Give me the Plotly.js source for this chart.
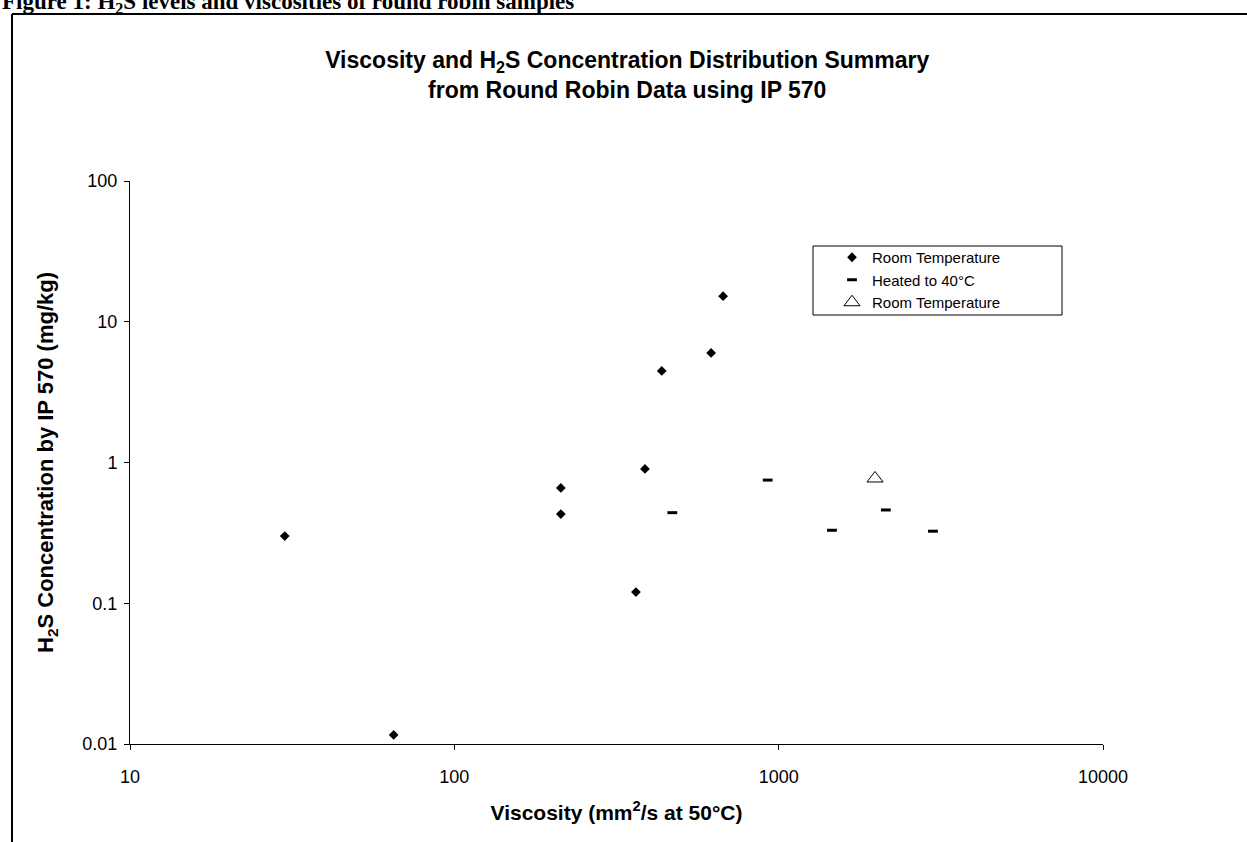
<!DOCTYPE html>
<html>
<head>
<meta charset="utf-8">
<script src="https://cdn.plot.ly/plotly-3.0.1.min.js"></script>
<style>html,body{margin:0;padding:0;background:#fff;}#chart{width:1247px;height:842px;}</style>
</head>
<body>
<div id="chart"></div>
<script>
// Room temperature samples (diamonds)
const roomViscosity = [30, 65, 213, 213, 363, 387, 436, 619, 674];
const roomH2S       = [0.30, 0.0116, 0.66, 0.43, 0.12, 0.90, 4.47, 6.0, 15.2];
// Heated to 40°C samples (dashes)
const heatedViscosity = [470, 925, 1460, 2140, 2990];
const heatedH2S       = [0.44, 0.75, 0.33, 0.46, 0.325];
// Room temperature (open triangle)
const room2Viscosity = [1982];
const room2H2S       = [0.77];

const xTickVals = [10, 100, 1000, 10000];
const xTickText = ['10', '100', '1000', '10000'];
const yTickVals = [0.01, 0.1, 1, 10, 100];
const yTickText = ['0.01', '0.1', '1', '10', '100'];

const FONT = 'Liberation Sans, Arial, sans-serif';

const traces = [
  {
    x: roomViscosity, y: roomH2S, mode: 'markers', type: 'scatter',
    name: 'Room Temperature',
    marker: {symbol: 'diamond', size: 7.5, color: '#000'}
  },
  {
    x: heatedViscosity, y: heatedH2S, mode: 'markers', type: 'scatter',
    name: 'Heated to 40°C',
    marker: {symbol: 'line-ew', size: 7, color: '#000', line: {color: '#000', width: 3}}
  },
  {
    x: room2Viscosity, y: room2H2S, mode: 'markers', type: 'scatter',
    name: 'Room Temperature',
    marker: {symbol: 'triangle-up-open', size: 14, color: '#000', line: {color: '#000', width: 1}}
  }
];

// pixel helpers for paper coordinates of the frame
const L = 130, R = 1103, T = 181, B = 744;
const px = v => (v - L) / (R - L);
const py = v => (B - v) / (B - T);

const layout = {
  width: 1247, height: 842,
  paper_bgcolor: '#fff', plot_bgcolor: '#fff',
  margin: {l: L, r: 1247 - R, t: T, b: 842 - B, pad: 0},
  font: {family: FONT, color: '#000', size: 18},
  showlegend: true,
  title: {
    text: '<b>Viscosity and H<sub>2</sub>S Concentration Distribution Summary<br>from Round Robin Data using IP 570</b>',
    font: {family: FONT, size: 23, color: '#000'},
    x: 0.503, xref: 'container', xanchor: 'center',
    y: 1 - 68 / 842, yref: 'container', yanchor: 'middle'
  },
  xaxis: {
    type: 'log', range: [1, 4],
    tickvals: xTickVals, ticktext: xTickText,
    ticks: 'outside', ticklen: 5, tickwidth: 1, tickcolor: '#000',
    ticklabelstandoff: 11,
    showline: true, linecolor: '#000', linewidth: 1, mirror: false,
    showgrid: false, zeroline: false,
    tickfont: {family: FONT, size: 18, color: '#000'},
    title: {text: '<b>Viscosity (mm<sup>2</sup>/s at 50°C)</b>', font: {family: FONT, size: 21, color: '#000'}, standoff: 19},
    automargin: false, fixedrange: true
  },
  yaxis: {
    type: 'log', range: [-2, 2],
    tickvals: yTickVals, ticktext: yTickText,
    ticks: 'outside', ticklen: 5, tickwidth: 1, tickcolor: '#000',
    ticklabelstandoff: 3,
    showline: true, linecolor: '#000', linewidth: 1, mirror: false,
    showgrid: false, zeroline: false,
    tickfont: {family: FONT, size: 18, color: '#000'},
    title: {text: '<b>H<sub>2</sub>S Concentration by IP 570 (mg/kg)</b>', font: {family: FONT, size: 22, color: '#000'}, standoff: 22},
    automargin: false, fixedrange: true
  },
  legend: {
    x: px(832), y: py(241), xanchor: 'left', yanchor: 'top',
    bgcolor: 'rgba(0,0,0,0)', bordercolor: '#000', borderwidth: 0,
    font: {family: FONT, size: 15, color: '#000'},
    tracegroupgap: 0, itemwidth: 30, traceorder: 'normal'
  },
  shapes: [
    {type: 'line', xref: 'paper', yref: 'paper', x0: px(12), x1: px(1250), y0: py(14), y1: py(14), line: {color: '#000', width: 2}},
    {type: 'line', xref: 'paper', yref: 'paper', x0: px(12), x1: px(12), y0: py(14), y1: py(850), line: {color: '#000', width: 2}},
    {type: 'rect', xref: 'paper', yref: 'paper', x0: px(813), x1: px(1062), y0: py(246), y1: py(315), line: {color: '#000', width: 1}, fillcolor: '#fff', layer: 'below'}
  ],
  annotations: [
    {
      text: '<b>Figure 1: H<sub>2</sub>S levels and viscosities of round robin samples</b>',
      xref: 'paper', yref: 'paper', x: px(0), y: py(19), xanchor: 'left', yanchor: 'bottom',
      showarrow: false, font: {family: 'Liberation Serif, Times New Roman, serif', size: 23, color: '#000'}
    }
  ]
};

Plotly.newPlot('chart', traces, layout, {displayModeBar: false, staticPlot: true});
</script>
</body>
</html>
